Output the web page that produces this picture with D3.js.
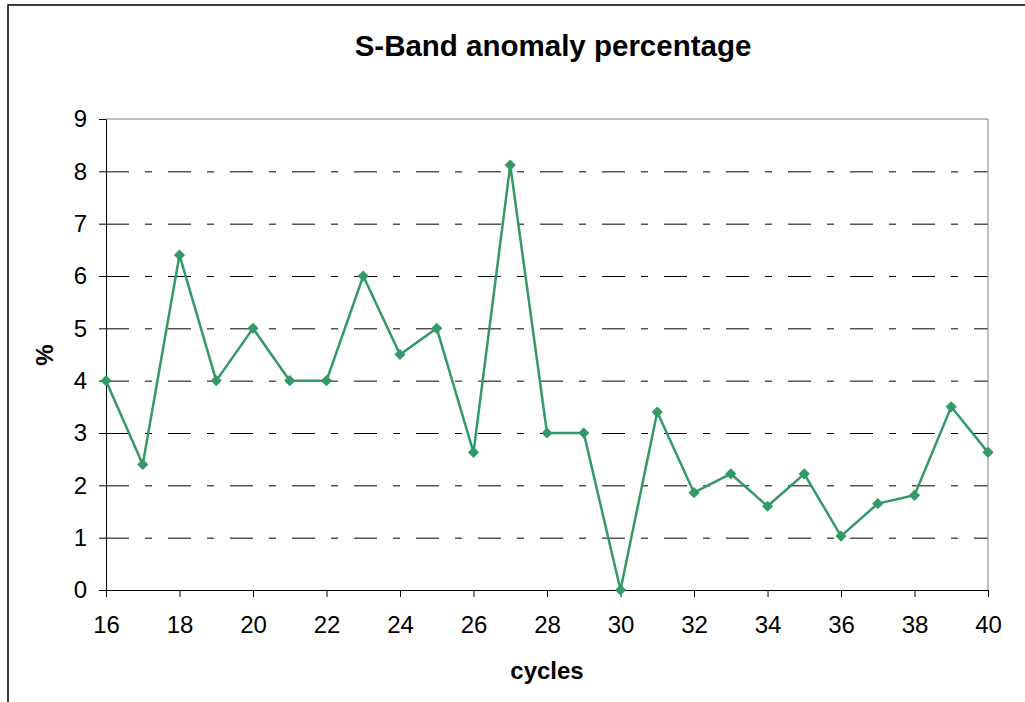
<!DOCTYPE html>
<html>
<head>
<meta charset="utf-8">
<script src="https://cdn.jsdelivr.net/npm/d3@7"></script>
<style>
  body { margin: 0; background: #fff; }
  svg { display: block; font-family: "Liberation Sans", Arial, sans-serif; }
  .grid line { stroke: #000; stroke-dasharray: 23,16,7,16; }
  .grid .domain { display: none; }
  .axis .domain, .axis line { stroke: #000; }
  .axis text { font-size: 24px; fill: #000; }
</style>
</head>
<body>
<script>
// chart data
const cycles = d3.range(16, 41);
const anomalyPct = [4.0, 2.4, 6.4, 4.0, 5.0, 4.0, 4.0, 6.0, 4.5, 5.0, 2.63, 8.12, 3.0, 3.0, 0,
                    3.4, 1.86, 2.22, 1.6, 2.22, 1.03, 1.65, 1.81, 3.5, 2.63];
const xTicks = [16, 18, 20, 22, 24, 26, 28, 30, 32, 34, 36, 38, 40];
const yTicks = [0, 1, 2, 3, 4, 5, 6, 7, 8, 9];

var margin = {top: 119, left: 106}
  , width = 882
  , height = 471;

const xScale = d3.scaleLinear().domain([16, 40]).range([0, width]);
const yScale = d3.scaleLinear().domain([0, 9]).range([height, 0]);

const svg = d3.select('body').append('svg')
  .attr('width', 1025)
  .attr('height', 702);

// outer chart frame (runs off right/bottom edge)
svg.append('rect')
  .attr('x', 8).attr('y', 5)
  .attr('width', 1100).attr('height', 800)
  .attr('fill', 'none')
  .attr('stroke', '#000')
  .attr('stroke-width', 1.5);

svg.append('text')
  .attr('x', 553).attr('y', 56)
  .attr('text-anchor', 'middle')
  .style('font-size', '29.5px')
  .style('font-weight', 'bold')
  .text('S-Band anomaly percentage');

const g = svg.append('g')
  .attr('transform', 'translate(' + margin.left + ',' + margin.top + ')');

// gridlines
g.append('g')
  .attr('class', 'grid')
  .call(d3.axisLeft(yScale).tickValues(yTicks.filter(d => d > 0 && d < 9)).tickSize(-width).tickFormat(''));

// plot area border (top and right)
g.append('path')
  .attr('d', 'M0,0H' + width + 'V' + height)
  .attr('fill', 'none')
  .attr('stroke', '#808080');

g.append('g')
  .attr('class', 'axis')
  .attr('transform', 'translate(0,' + height + ')')
  .call(d3.axisBottom(xScale).tickValues(xTicks).tickSize(7).tickSizeOuter(0).tickPadding(19));

g.append('g')
  .attr('class', 'axis')
  .call(d3.axisLeft(yScale).tickValues(yTicks).tickSize(7).tickSizeOuter(0).tickPadding(12));

const line = d3.line()
  .x((d, i) => xScale(cycles[i]))
  .y(d => yScale(d));

g.append('path')
  .datum(anomalyPct)
  .attr('d', line)
  .attr('fill', 'none')
  .attr('stroke', '#339966')
  .attr('stroke-width', 2.5);

const diamond = d3.symbol().type(d3.symbolDiamond2).size(80);
g.selectAll('.dot')
  .data(anomalyPct)
  .enter()
    .append('path')
    .attr('class', 'dot')
    .attr('transform', (d, i) => 'translate(' + xScale(cycles[i]) + ',' + yScale(d) + ')')
    .attr('d', diamond)
    .attr('fill', '#339966');

svg.append('text')
  .attr('x', 547).attr('y', 679)
  .attr('text-anchor', 'middle')
  .style('font-size', '24px')
  .style('font-weight', 'bold')
  .text('cycles');

svg.append('text')
  .attr('transform', 'translate(53,355) rotate(-90)')
  .attr('text-anchor', 'middle')
  .style('font-size', '24px')
  .style('font-weight', 'bold')
  .text('%');
</script>
</body>
</html>
